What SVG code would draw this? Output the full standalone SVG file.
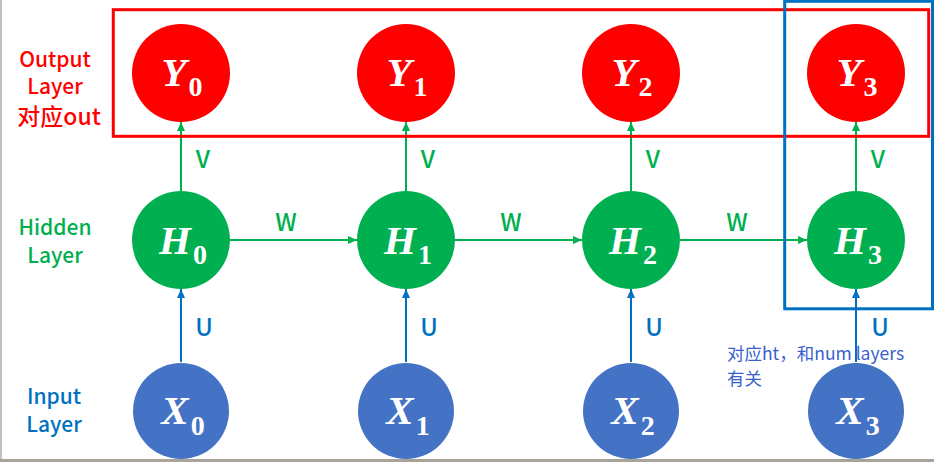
<svg xmlns="http://www.w3.org/2000/svg" width="934" height="462" viewBox="0 0 934 462">
<style>
.lbl{font-family:"Noto Sans CJK SC","Noto Sans",sans-serif;font-size:21px;font-weight:500;text-anchor:middle}
.out{fill:#FF0000}
.hid{fill:#00B050}
.inp{fill:#0070C0}
.ed{font-family:"Noto Sans CJK SC","Noto Sans",sans-serif;font-size:24px;font-weight:500;text-anchor:middle}
.nt{font-family:"Liberation Serif","Times New Roman",serif;font-weight:bold;fill:#FFFFFF;text-anchor:middle}
.main{font-style:italic;font-size:41px}
.sub{font-style:normal;font-size:28px}
.g{stroke:#00B050;stroke-width:2;fill:none}
.b{stroke:#0070C0;stroke-width:2;fill:none}
.ny{fill:#FF0000}
.nh{fill:#00B050}
.nx{fill:#4472C4}
.note{font-family:"Noto Sans CJK SC","Noto Sans",sans-serif;font-size:17.5px;fill:#3A5FCD}
</style>
<defs>
<marker id="ag" markerUnits="userSpaceOnUse" markerWidth="10" markerHeight="10" refX="9" refY="5" orient="auto">
<path d="M0,1 L9,5 L0,9 Z" fill="#00B050"/>
</marker>
<marker id="ab" markerUnits="userSpaceOnUse" markerWidth="10" markerHeight="10" refX="9" refY="5" orient="auto">
<path d="M0,1 L9,5 L0,9 Z" fill="#0070C0"/>
</marker>
</defs>
<rect x="0" y="0" width="934" height="462" fill="#FFFFFF"/>
<rect x="0" y="0" width="2" height="462" fill="#C4C1BC"/>
<rect x="0" y="459" width="934" height="3" fill="#A8A49C"/>

<g id="layer-labels">
<text class="lbl out" x="55" y="67">Output</text>
<text class="lbl out" x="55" y="94">Layer</text>
<text class="lbl out" x="59" y="125" style="font-size:23px">对应out</text>
<text class="lbl hid" x="55" y="235">Hidden</text>
<text class="lbl hid" x="55" y="263">Layer</text>
<text class="lbl inp" x="54" y="404">Input</text>
<text class="lbl inp" x="54" y="432">Layer</text>
</g>

<g id="connectors">
<line class="g" x1="181" y1="191" x2="181" y2="122" marker-end="url(#ag)"/>
<line class="g" x1="406" y1="191" x2="406" y2="122" marker-end="url(#ag)"/>
<line class="g" x1="631" y1="191" x2="631" y2="122" marker-end="url(#ag)"/>
<line class="g" x1="856" y1="191" x2="856" y2="122" marker-end="url(#ag)"/>
<line class="g" x1="230" y1="240" x2="357" y2="240" marker-end="url(#ag)"/>
<line class="g" x1="455" y1="240" x2="582" y2="240" marker-end="url(#ag)"/>
<line class="g" x1="680" y1="240" x2="807" y2="240" marker-end="url(#ag)"/>
<line class="b" x1="181" y1="362" x2="181" y2="289" marker-end="url(#ab)"/>
<line class="b" x1="406" y1="362" x2="406" y2="289" marker-end="url(#ab)"/>
<line class="b" x1="631" y1="362" x2="631" y2="289" marker-end="url(#ab)"/>
<line class="b" x1="856" y1="362" x2="856" y2="289" marker-end="url(#ab)"/>
<text class="ed hid" x="203" y="168">V</text>
<text class="ed hid" x="428" y="168">V</text>
<text class="ed hid" x="653" y="168">V</text>
<text class="ed hid" x="878" y="168">V</text>
<text class="ed hid" x="286" y="231">W</text>
<text class="ed hid" x="511" y="231">W</text>
<text class="ed hid" x="737" y="231">W</text>
<text class="ed inp" x="204" y="336">U</text>
<text class="ed inp" x="429" y="336">U</text>
<text class="ed inp" x="654" y="336">U</text>
<text class="ed inp" x="880" y="336">U</text>
</g>

<g id="Y0"><circle class="ny" cx="181" cy="73" r="49"/><text class="nt" x="182" y="86"><tspan class="main">Y</tspan><tspan class="sub" dx="2" dy="10">0</tspan></text></g>
<g id="Y1"><circle class="ny" cx="406" cy="73" r="49"/><text class="nt" x="407" y="86"><tspan class="main">Y</tspan><tspan class="sub" dx="2" dy="10">1</tspan></text></g>
<g id="Y2"><circle class="ny" cx="631" cy="73" r="49"/><text class="nt" x="632" y="86"><tspan class="main">Y</tspan><tspan class="sub" dx="2" dy="10">2</tspan></text></g>
<g id="Y3"><circle class="ny" cx="856" cy="73" r="49"/><text class="nt" x="857" y="86"><tspan class="main">Y</tspan><tspan class="sub" dx="2" dy="10">3</tspan></text></g>

<g id="H0"><circle class="nh" cx="181" cy="240" r="49"/><text class="nt" x="183" y="254"><tspan class="main">H</tspan><tspan class="sub" dx="2" dy="10">0</tspan></text></g>
<g id="H1"><circle class="nh" cx="406" cy="240" r="49"/><text class="nt" x="408" y="254"><tspan class="main">H</tspan><tspan class="sub" dx="2" dy="10">1</tspan></text></g>
<g id="H2"><circle class="nh" cx="631" cy="240" r="49"/><text class="nt" x="633" y="254"><tspan class="main">H</tspan><tspan class="sub" dx="2" dy="10">2</tspan></text></g>
<g id="H3"><circle class="nh" cx="856" cy="240" r="49"/><text class="nt" x="858" y="254"><tspan class="main">H</tspan><tspan class="sub" dx="2" dy="10">3</tspan></text></g>

<g id="X0"><circle class="nx" cx="181" cy="411" r="48"/><text class="nt" x="183" y="424"><tspan class="main">X</tspan><tspan class="sub" dx="2" dy="11">0</tspan></text></g>
<g id="X1"><circle class="nx" cx="406" cy="411" r="48"/><text class="nt" x="408" y="424"><tspan class="main">X</tspan><tspan class="sub" dx="2" dy="11">1</tspan></text></g>
<g id="X2"><circle class="nx" cx="631" cy="411" r="48"/><text class="nt" x="633" y="424"><tspan class="main">X</tspan><tspan class="sub" dx="2" dy="11">2</tspan></text></g>
<g id="X3"><circle class="nx" cx="856" cy="411" r="48"/><text class="nt" x="858" y="424"><tspan class="main">X</tspan><tspan class="sub" dx="2" dy="11">3</tspan></text></g>

<g id="output-box"><rect x="113.3" y="9.7" width="815.4" height="126.6" fill="none" stroke="#FF0000" stroke-width="3"/></g>
<g id="ht-box"><rect x="784.7" y="1.3" width="147.8" height="307.5" fill="none" stroke="#0070C0" stroke-width="3"/></g>

<g id="note">
<text class="note" x="727" y="360">对应ht，和num layers</text>
<text class="note" x="727" y="385">有关</text>
</g>
</svg>
